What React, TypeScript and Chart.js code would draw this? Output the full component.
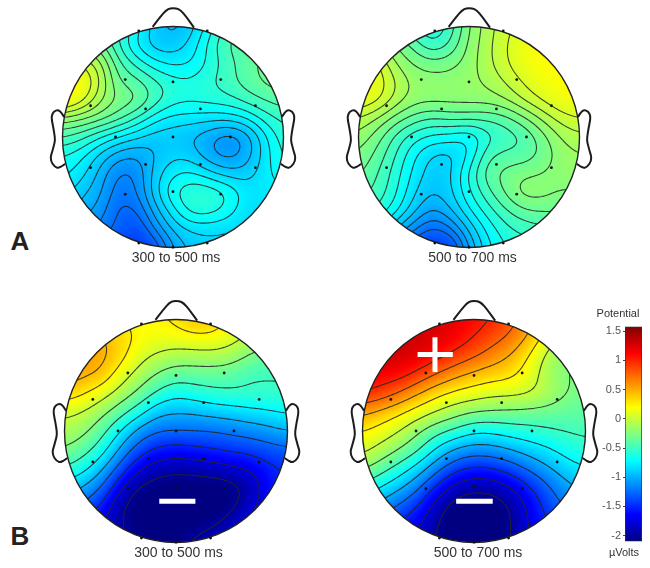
import React, { useEffect, useRef } from "react";
import { Chart, registerables } from "chart.js";

Chart.register(...registerables);

const gridAxis = [-1, -5 / 6, -4 / 6, -3 / 6, -2 / 6, -1 / 6, 0, 1 / 6, 2 / 6, 3 / 6, 4 / 6, 5 / 6, 1];

const mapA300 = [
  [-.5,-.5,-.5,-.5,-.7,-.9,-1,-.9,-.7,-.5,-.45,-.45,-.45],
  [-.2,-.25,-.3,-.55,-.78,-.92,-.92,-.82,-.6,-.42,-.38,-.36,-.36],
  [.1,.05,-.08,-.42,-.58,-.72,-.78,-.76,-.62,-.5,-.38,-.32,-.3],
  [.3,.22,-.02,-.35,-.4,-.52,-.6,-.62,-.56,-.48,-.4,-.32,-.28],
  [.28,.12,-.12,-.26,-.3,-.48,-.6,-.62,-.6,-.58,-.5,-.44,-.4],
  [-.2,-.24,-.3,-.4,-.55,-.72,-.8,-.8,-.82,-.82,-.76,-.6,-.52],
  [-.45,-.52,-.65,-.76,-.84,-.92,-.92,-.96,-1.04,-1.14,-1.04,-.78,-.58],
  [-.65,-.72,-.88,-1.02,-1.06,-.96,-.87,-.9,-1.04,-1.12,-1.02,-.8,-.62],
  [-.72,-.8,-.98,-1.18,-1.16,-.9,-.76,-.72,-.82,-.9,-.9,-.78,-.68],
  [-.8,-.92,-1.02,-1.22,-1.18,-.88,-.64,-.55,-.55,-.64,-.8,-.8,-.78],
  [-.9,-1,-1.08,-1.28,-1.28,-1,-.78,-.58,-.58,-.68,-.84,-.84,-.84],
  [-1,-1.1,-1.18,-1.28,-1.4,-1.14,-.92,-.84,-.84,-.86,-.86,-.86,-.86],
  [-1.1,-1.15,-1.25,-1.4,-1.48,-1.38,-1.05,-.92,-.88,-.88,-.88,-.88,-.88],
];
const mapA500 = [
  [-.3,-.35,-.4,-.55,-.68,-.52,-.25,-.1,.02,.1,.15,.15,.15],
  [-.1,-.15,-.25,-.38,-.56,-.44,-.22,-.08,.05,.15,.2,.2,.2],
  [.16,.1,-.16,-.26,-.3,-.28,-.2,-.08,.04,.15,.2,.2,.2],
  [.22,.14,-.04,-.18,-.2,-.2,-.18,-.13,-.04,.07,.16,.2,.2],
  [.16,.1,-.08,-.2,-.2,-.2,-.2,-.2,-.15,-.03,.07,.16,.18],
  [-.06,-.16,-.3,-.4,-.47,-.42,-.42,-.44,-.4,-.28,-.13,0,.05],
  [-.18,-.3,-.48,-.62,-.68,-.7,-.78,-.6,-.52,-.46,-.3,-.14,-.08],
  [-.26,-.38,-.55,-.74,-.88,-.9,-.76,-.46,-.42,-.42,-.33,-.2,-.16],
  [-.33,-.44,-.6,-.78,-.92,-.88,-.62,-.38,-.3,-.26,-.24,-.2,-.18],
  [-.4,-.48,-.62,-.84,-.96,-.88,-.66,-.48,-.32,-.18,-.2,-.26,-.26],
  [-.48,-.56,-.7,-.92,-1.08,-.96,-.76,-.6,-.46,-.36,-.34,-.34,-.34],
  [-.6,-.72,-.95,-1.14,-1.28,-1.18,-.92,-.72,-.58,-.52,-.48,-.48,-.48],
  [-.8,-1,-1.2,-1.35,-1.5,-1.45,-1.05,-.78,-.65,-.6,-.6,-.6,-.6],
];
const mapB300 = [
  [.4,.4,.35,.25,.18,.22,.3,.45,.4,.2,.05,0,0],
  [.6,.55,.48,.35,.22,.15,.15,.2,.2,.1,-.05,-.15,-.2],
  [.6,.56,.52,.35,.08,-.05,-.12,-.12,-.1,-.15,-.3,-.38,-.4],
  [.55,.5,.44,.12,-.1,-.28,-.4,-.38,-.38,-.4,-.5,-.5,-.5],
  [.38,.28,.1,-.1,-.3,-.55,-.7,-.62,-.55,-.52,-.52,-.52,-.5],
  [.05,-.02,-.18,-.4,-.65,-.95,-1,-.98,-.92,-.88,-.82,-.78,-.72],
  [-.1,-.18,-.4,-.75,-1.1,-1.25,-1.25,-1.25,-1.25,-1.2,-1.15,-1.08,-1],
  [-.25,-.38,-.62,-1.05,-1.38,-1.55,-1.6,-1.55,-1.5,-1.45,-1.42,-1.35,-1.3],
  [-.5,-.65,-.95,-1.35,-1.72,-1.9,-1.95,-1.92,-1.88,-1.8,-1.72,-1.55,-1.5],
  [-.85,-1,-1.25,-1.7,-2.05,-2.12,-2.14,-2.14,-2.14,-2.1,-1.95,-1.6,-1.45],
  [-1.1,-1.3,-1.5,-2,-2.15,-2.15,-2.15,-2.15,-2.15,-2.08,-1.85,-1.55,-1.5],
  [-1.4,-1.6,-1.75,-2,-2.12,-2.15,-2.15,-2.1,-2.05,-1.9,-1.65,-1.6,-1.6],
  [-1.6,-1.7,-1.8,-1.95,-2.1,-2.12,-2.1,-1.95,-1.85,-1.7,-1.65,-1.6,-1.6],
];
const mapB500 = [
  [1.3,1.3,1.3,1.3,1.25,1.2,1.1,1,.85,.6,.3,.2,.1],
  [1.3,1.3,1.3,1.3,1.25,1.15,1,.85,.7,.45,.1,-.1,-.2],
  [1.3,1.3,1.3,1.22,1.08,.92,.78,.62,.48,.22,-.1,-.25,-.3],
  [1.2,1.15,1.1,.92,.72,.55,.42,.35,.3,.12,-.15,-.25,-.3],
  [1,.9,.72,.5,.3,.18,.12,.05,.05,.02,-.08,-.25,-.3],
  [.55,.42,.28,.12,-.02,-.15,-.25,-.28,-.3,-.32,-.35,-.38,-.4],
  [.25,.15,0,-.22,-.42,-.55,-.72,-.7,-.62,-.58,-.52,-.48,-.45],
  [.08,-.08,-.25,-.45,-.8,-1.05,-1.12,-1.1,-1,-.88,-.78,-.65,-.58],
  [-.2,-.38,-.6,-.85,-1.18,-1.42,-1.55,-1.5,-1.38,-1.2,-1.02,-.85,-.75],
  [-.55,-.75,-.95,-1.2,-1.55,-1.85,-1.95,-1.92,-1.75,-1.52,-1.28,-1.05,-.95],
  [-.9,-1.1,-1.28,-1.5,-1.88,-2.12,-2.18,-2.15,-2,-1.68,-1.4,-1.2,-1.1],
  [-1.2,-1.4,-1.55,-1.7,-2,-2.2,-2.25,-2.2,-2.02,-1.72,-1.5,-1.35,-1.3],
  [-1.4,-1.55,-1.7,-1.85,-2.05,-2.2,-2.25,-2.15,-2,-1.75,-1.55,-1.45,-1.4],
];

const levelsA300 = [-1.25,-1.15,-1.05,-.95,-.85,-.75,-.65,-.55,-.45,-.35,-.25,-.15,-.05,.05];
const levelsA500 = [-1.25,-1.15,-1.05,-.95,-.85,-.75,-.65,-.55,-.45,-.35,-.25,-.15,-.05,.05];
const levelsB300 = [-2,-1.75,-1.5,-1.25,-1,-.75,-.5,-.25,0,.25,.45];
const levelsB500 = [-2,-1.75,-1.5,-1.25,-1,-.75,-.5,-.25,0,.25,.5,.75,1];

const electrodeX = [-.432,0,.432,-.746,-.248,.248,.746,-.52,0,.52,-.746,-.248,.248,.746,-.432,0,.432,-.31,.31,0,-.31,.31];
const electrodeY = [.52,.498,.52,.283,.254,.254,.283,0,0,0,-.278,-.248,-.248,-.278,-.517,-.495,-.517,.96,.96,-.997,-.96,-.96];

const noseX = [-.184,-.088,-.042,0,.048,.094,.19];
const noseY = [.997,1.118,1.157,1.166,1.157,1.118,.99];
const earX = [-.985,-1.024,-1.06,-1.09,-1.097,-1.079,-1.069,-1.09,-1.106,-1.09,-1.048,-1.009,-.976];
const earY = [.181,.233,.239,.211,.166,.06,-.03,-.121,-.187,-.242,-.278,-.266,-.242];

const colorbarTicks = [-2,-1.5,-1,-.5,0,.5,1,1.5];
const colorMin = -2.1;
const colorMax = 1.58;

const heads = [
  { key: "A300", map: mapA300, levels: levelsA300, cx: 173, cy: 136.5, r: 110.5, label: "300 to 500 ms", lx: 176, ly: 257, marks: [] as number[][][] },
  { key: "A500", map: mapA500, levels: levelsA500, cx: 469, cy: 136.5, r: 110.5, label: "500 to 700 ms", lx: 472.5, ly: 257, marks: [] as number[][][] },
  { key: "B300", map: mapB300, levels: levelsB300, cx: 175.5, cy: 430.5, r: 111.5, label: "300 to 500 ms", lx: 178.5, ly: 552, marks: [[[-.15,-.63],[.174,-.63]]] },
  { key: "B500", map: mapB500, levels: levelsB500, cx: 473.5, cy: 430.5, r: 111.5, label: "500 to 700 ms", lx: 478, ly: 552, marks: [[[-.16,-.63],[.168,-.63]],[[-.506,.686],[-.19,.686]],[[-.35,.84],[-.35,.53]]] },
];

const clamp = (v: number) => Math.max(0, Math.min(1, v));
const jet = (v: number) => {
  const t = clamp((v - colorMin) / (colorMax - colorMin));
  return [clamp(1.5 - Math.abs(4 * t - 3)), clamp(1.5 - Math.abs(4 * t - 2)), clamp(1.5 - Math.abs(4 * t - 1))].map((c) => Math.round(c * 255));
};

// cubic B-spline blend of four neighbouring grid values
const spline = (a: number, b: number, c: number, d: number, t: number) => {
  const t2 = t * t, t3 = t2 * t;
  return ((1 - 3 * t + 3 * t2 - t3) * a + (4 - 6 * t2 + 3 * t3) * b + (1 + 3 * t + 3 * t2 - 3 * t3) * c + t3 * d) / 6;
};

function sample(map: number[][], hx: number, hy: number) {
  const n = map.length;
  const fx = Math.max(0, Math.min(n - 1.0001, ((hx + 1) / 2) * (n - 1)));
  const fy = Math.max(0, Math.min(n - 1.0001, ((1 - hy) / 2) * (n - 1)));
  const ix = Math.floor(fx), iy = Math.floor(fy);
  const at = (r: number, c: number) => map[Math.max(0, Math.min(n - 1, r))][Math.max(0, Math.min(n - 1, c))];
  const rows = [-1, 0, 1, 2].map((o) => spline(at(iy + o, ix - 1), at(iy + o, ix), at(iy + o, ix + 1), at(iy + o, ix + 2), fx - ix));
  return spline(rows[0], rows[1], rows[2], rows[3], fy - iy);
}

const topoPlugin = {
  id: "topo",
  beforeDatasetsDraw(chart: any, _a: any, opts: any) {
    const { ctx, scales: { x, y } } = chart;
    const map: number[][] = opts.map;
    const levels: number[] = opts.levels;
    const cx = x.getPixelForValue(0), cy = y.getPixelForValue(0);
    const r = x.getPixelForValue(1) - cx;
    const size = Math.ceil(r * 2 + 4);
    const x0 = Math.floor(cx - r - 2), y0 = Math.floor(cy - r - 2);
    const img = ctx.createImageData(size, size);
    for (let py = 0; py < size; py++) {
      for (let px = 0; px < size; px++) {
        const ax = x0 + px + 0.5, ay = y0 + py + 0.5;
        const d = Math.hypot(ax - cx, ay - cy);
        if (d > r + 1) continue;
        const [cr, cg, cb] = jet(sample(map, x.getValueForPixel(ax), y.getValueForPixel(ay)));
        const i = (py * size + px) * 4;
        img.data[i] = cr; img.data[i + 1] = cg; img.data[i + 2] = cb;
        img.data[i + 3] = 255;
      }
    }
    const off = document.createElement("canvas");
    off.width = size; off.height = size;
    off.getContext("2d")!.putImageData(img, 0, 0);
    ctx.save();
    ctx.beginPath();
    ctx.arc(cx, cy, r, 0, Math.PI * 2);
    ctx.clip();
    ctx.drawImage(off, x0, y0);
    // contour lines by marching squares over the interpolated field
    const step = 1.5;
    const nn = Math.ceil(size / step) + 1;
    const f: number[][] = [];
    for (let j = 0; j < nn; j++) {
      const row: number[] = [];
      for (let i = 0; i < nn; i++) row.push(sample(map, x.getValueForPixel(x0 + i * step), y.getValueForPixel(y0 + j * step)));
      f.push(row);
    }
    ctx.strokeStyle = "rgba(35,35,35,0.85)";
    ctx.lineWidth = 1.1;
    ctx.beginPath();
    for (const lv of levels) {
      for (let j = 0; j < nn - 1; j++) {
        for (let i = 0; i < nn - 1; i++) {
          const a = f[j][i], b = f[j][i + 1], c = f[j + 1][i + 1], d = f[j + 1][i];
          const pts: number[][] = [];
          const X = x0 + i * step, Y = y0 + j * step;
          if ((a < lv) !== (b < lv)) pts.push([X + (step * (lv - a)) / (b - a), Y]);
          if ((b < lv) !== (c < lv)) pts.push([X + step, Y + (step * (lv - b)) / (c - b)]);
          if ((d < lv) !== (c < lv)) pts.push([X + (step * (lv - d)) / (c - d), Y + step]);
          if ((a < lv) !== (d < lv)) pts.push([X, Y + (step * (lv - a)) / (d - a)]);
          for (let k = 0; k + 1 < pts.length; k += 2) {
            ctx.moveTo(pts[k][0], pts[k][1]);
            ctx.lineTo(pts[k + 1][0], pts[k + 1][1]);
          }
        }
      }
    }
    ctx.stroke();
    ctx.restore();
    ctx.beginPath();
    ctx.arc(cx, cy, r, 0, Math.PI * 2);
    ctx.strokeStyle = "#222";
    ctx.lineWidth = 1.4;
    ctx.stroke();
  },
};

const outline = (xs: number[], ys: number[], mirror: number) => ({
  data: xs.map((v, i) => ({ x: v * mirror, y: ys[i] })),
  showLine: true,
  borderColor: "#1c1c1c",
  borderWidth: 2,
  pointRadius: 0,
  tension: 0.35,
  fill: false,
});

function Head({ head }: { head: (typeof heads)[number] }) {
  const ref = useRef<HTMLCanvasElement>(null);
  const W = 264, H = 272;
  useEffect(() => {
    const nodes = head.map.flatMap((row, j) => row.map((v, i) => ({ x: gridAxis[i], y: gridAxis[12 - j], v })));
    const chart = new Chart(ref.current!, {
      type: "scatter",
      data: {
        datasets: [
          { label: "potential", data: nodes, pointRadius: 0 } as any,
          outline(noseX, noseY, 1),
          outline(earX, earY, 1),
          outline(earX, earY, -1),
          ...head.marks.map((m) => ({
            data: m.map((p) => ({ x: p[0], y: p[1] })),
            showLine: true,
            borderColor: "#fff",
            borderWidth: 5,
            pointRadius: 0,
          })),
          {
            label: "electrodes",
            data: electrodeX.map((v, i) => ({ x: v, y: electrodeY[i] })),
            pointRadius: 1.4,
            pointBackgroundColor: "#111",
            pointBorderWidth: 0,
          },
        ],
      },
      options: {
        responsive: false,
        animation: false,
        layout: { padding: 0, autoPadding: false },
        scales: {
          x: { type: "linear", display: false, min: -W / 2 / head.r, max: W / 2 / head.r },
          y: { type: "linear", display: false, min: -H / 2 / head.r, max: H / 2 / head.r },
        },
        plugins: {
          legend: { display: false },
          tooltip: { enabled: false },
          topo: { map: head.map, levels: head.levels },
        } as any,
      },
      plugins: [topoPlugin],
    } as any);
    return () => chart.destroy();
  }, []);
  return (
    <canvas
      ref={ref}
      width={W}
      height={H}
      style={{ position: "absolute", left: head.cx - W / 2, top: head.cy - H / 2, width: W, height: H, filter: "blur(0.35px)" }}
    />
  );
}

function Colorbar() {
  const ref = useRef<HTMLCanvasElement>(null);
  useEffect(() => {
    const chart = new Chart(ref.current!, {
      type: "bar",
      data: {
        labels: ["Potential"],
        datasets: [
          {
            data: [[colorMin, colorMax]],
            barPercentage: 1,
            categoryPercentage: 1,
            borderColor: "#333",
            borderWidth: 1,
            borderSkipped: false,
            backgroundColor: (c: any) => {
              const a = c.chart.chartArea;
              if (!a) return "#000";
              const g = c.chart.ctx.createLinearGradient(0, a.bottom, 0, a.top);
              for (let i = 0; i <= 32; i++) {
                const [r, gg, b] = jet(colorMin + (i / 32) * (colorMax - colorMin));
                g.addColorStop(i / 32, `rgb(${r},${gg},${b})`);
              }
              return g;
            },
          } as any,
        ],
      },
      options: {
        responsive: false,
        animation: false,
        layout: { padding: { top: 6, bottom: 7, right: 3, left: 0 }, autoPadding: false },
        scales: {
          x: { display: false },
          y: {
            type: "linear",
            min: colorMin,
            max: colorMax,
            afterBuildTicks: (s: any) => { s.ticks = colorbarTicks.map((value) => ({ value })); },
            afterFit: (s: any) => { s.width = 40; },
            ticks: {
              font: { family: "Liberation Sans", size: 11 },
              color: "#555",
              padding: 2,
              callback: (v: any) => String(v),
            },
            grid: { drawOnChartArea: false, drawTicks: true, tickLength: 2, color: "#444" },
            border: { display: false },
          },
        },
        plugins: { legend: { display: false }, tooltip: { enabled: false } },
      },
    } as any);
    return () => chart.destroy();
  }, []);
  return <canvas ref={ref} width={60} height={232} style={{ position: "absolute", left: 585, top: 318, width: 60, height: 232 }} />;
}

const textStyle = (x: number, y: number, size: number, bold = false): React.CSSProperties => ({
  position: "absolute",
  left: x,
  top: y,
  transform: "translate(-50%, -50%)",
  font: `${bold ? "bold " : ""}${size}px "Liberation Sans", Arial, sans-serif`,
  color: bold ? "#222" : "#333",
  whiteSpace: "nowrap",
  lineHeight: 1,
});

export default function App() {
  return (
    <div style={{ position: "absolute", left: 0, top: 0, width: 650, height: 568, background: "#fff", overflow: "hidden" }}>
      {heads.map((h) => <Head key={h.key} head={h} />)}
      {heads.map((h) => <div key={h.key} style={textStyle(h.lx, h.ly, 14)}>{h.label}</div>)}
      <Colorbar />
      <div style={textStyle(618, 313, 11)}>Potential</div>
      <div style={textStyle(624, 552, 11)}>µVolts</div>
      <div style={textStyle(20, 241, 26, true)}>A</div>
      <div style={textStyle(20, 536, 26, true)}>B</div>
    </div>
  );
}
